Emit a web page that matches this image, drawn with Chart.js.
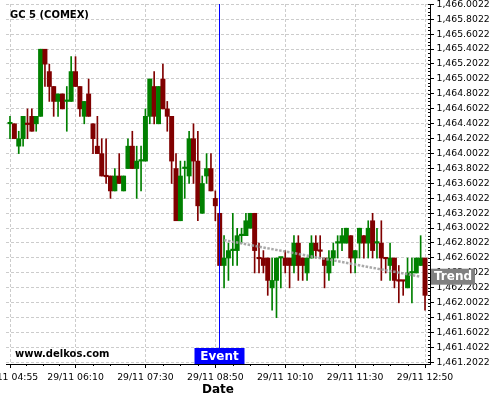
<!DOCTYPE html>
<html>
<head>
<meta charset="utf-8">
<script src="https://cdn.jsdelivr.net/npm/chart.js@4/dist/chart.umd.min.js"></script>
<style>
html, body { margin: 0; padding: 0; background: #fff; }
</style>
</head>
<body>
<canvas id="chart" width="500" height="400"></canvas>
<script>
// GC 5 (COMEX) 5 minute candles
const openP = [1464.4,1464.4,1464.1,1464.2,1464.4,1464.5,1464.4,1464.5,1465.4,1465.1,
  1464.9,1464.7,1464.8,1464.7,1464.7,1465.1,1464.9,1464.5,1464.8,1464.4,
  1464.1,1464.0,1463.7,1463.7,1463.5,1463.7,1463.5,1463.8,1464.1,1463.8,
  1463.9,1463.9,1464.5,1464.9,1464.4,1465.0,1464.6,1464.5,1463.8,1463.1,
  1463.8,1463.7,1464.2,1463.9,1463.2,1463.7,1463.8,1463.4,1463.2,1462.5,
  1462.6,1462.7,1462.7,1462.9,1462.9,1463.0,1463.2,1462.6,1462.6,1462.6,
  1462.2,1462.3,1462.6,1462.6,1462.6,1462.5,1462.8,1462.6,1462.4,1462.6,
  1462.8,1462.7,1462.6,1462.4,1462.6,1462.8,1462.8,1462.8,1462.9,1462.6,
  1462.8,1462.9,1462.8,1463.1,1462.8,1462.8,1462.6,1462.5,1462.6,1462.3,
  1462.3,1462.2,1462.4,1462.4,1462.5,1462.6];
const highP = [1464.5,1464.4,1464.3,1464.5,1464.6,1464.6,1464.5,1465.4,1465.4,1465.2,
  1464.9,1464.8,1464.8,1464.9,1465.3,1465.3,1464.9,1464.7,1465.0,1464.4,
  1464.5,1464.2,1464.2,1463.7,1463.8,1464.0,1463.7,1464.2,1464.3,1464.1,
  1464.1,1464.6,1465.0,1465.1,1464.9,1465.2,1464.7,1464.5,1464.0,1463.9,
  1463.9,1464.3,1464.4,1464.3,1463.7,1464.0,1464.0,1463.5,1463.2,1462.9,
  1462.8,1463.2,1463.0,1463.0,1463.2,1463.2,1463.2,1462.8,1462.7,1462.6,
  1462.6,1462.6,1462.6,1462.7,1462.6,1462.9,1462.9,1462.6,1462.6,1462.9,
  1462.9,1462.9,1462.6,1462.7,1462.8,1462.9,1463.0,1463.0,1462.9,1462.7,
  1463.0,1462.9,1463.1,1463.2,1463.0,1463.1,1462.6,1462.8,1462.6,1462.5,
  1462.3,1462.6,1462.6,1462.6,1462.9,1462.6];
const lowP = [1464.2,1464.2,1464.0,1464.1,1464.2,1464.3,1464.3,1464.5,1464.9,1464.7,
  1464.5,1464.5,1464.6,1464.3,1464.7,1464.9,1464.5,1464.4,1464.5,1464.0,
  1464.0,1463.7,1463.6,1463.4,1463.5,1463.6,1463.5,1463.8,1463.8,1463.4,
  1463.5,1463.9,1464.4,1464.4,1464.4,1464.6,1464.3,1463.6,1463.1,1463.1,
  1463.4,1463.6,1463.6,1463.1,1463.2,1463.6,1463.5,1463.1,1462.5,1462.2,
  1462.3,1462.5,1462.5,1462.8,1462.9,1463.0,1462.4,1462.4,1462.4,1462.1,
  1461.9,1461.8,1462.2,1462.4,1462.2,1462.4,1462.3,1462.3,1462.3,1462.6,
  1462.6,1462.6,1462.2,1462.3,1462.5,1462.6,1462.7,1462.8,1462.4,1462.4,
  1462.6,1462.6,1462.6,1462.6,1462.6,1462.3,1462.4,1462.3,1462.2,1462.0,
  1462.1,1462.2,1462.0,1462.4,1462.5,1461.9];
const closeP = [1464.41,1464.2,1464.2,1464.5,1464.39,1464.3,1464.5,1465.4,1465.2,1464.9,
  1464.7,1464.8,1464.6,1464.71,1465.1,1464.9,1464.6,1464.7,1464.5,1464.2,
  1464.0,1463.7,1463.69,1463.5,1463.7,1463.6,1463.7,1464.1,1463.8,1463.9,
  1463.91,1464.5,1465.0,1464.5,1464.9,1464.6,1464.5,1463.9,1463.1,1463.7,
  1463.81,1464.2,1463.9,1463.3,1463.6,1463.8,1463.5,1463.3,1462.5,1462.6,
  1462.7,1462.71,1462.9,1462.91,1463.1,1463.2,1462.7,1462.59,1462.5,1462.3,
  1462.3,1462.6,1462.61,1462.5,1462.5,1462.8,1462.5,1462.5,1462.6,1462.8,
  1462.7,1462.69,1462.5,1462.6,1462.7,1462.81,1462.9,1463.0,1462.6,1462.7,
  1463.0,1462.8,1463.0,1462.7,1462.81,1462.6,1462.59,1462.6,1462.3,1462.29,
  1462.29,1462.4,1462.41,1462.6,1462.6,1462.1];

// x axis labels (candle index -> time)
const tickIdx = [0, 15, 31, 47, 63, 79, 95];
const tickLabels = ['29/11 04:55', '29/11 06:10', '29/11 07:30', '29/11 08:50',
  '29/11 10:10', '29/11 11:30', '29/11 12:50'];

// trend line and event
const trendX = [49, 94];
const trendY = [1462.84, 1462.35];
const eventIdx = 48;

const yTickStart = 1461.2022;
const yTickStep = 0.2;
const yTickCount = 25;

const upColor = 'rgb(0,128,0)';
const downColor = 'rgb(128,0,0)';
const FONT = "'DejaVu Sans', sans-serif";

const candleColors = openP.map((o, i) => closeP[i] >= o ? upColor : downColor);

function fmt(v) {
  return v.toLocaleString('en-US', { minimumFractionDigits: 4, maximumFractionDigits: 4 });
}

const extras = {
  id: 'extras',
  afterDraw(chart) {
    const ctx = chart.ctx;
    const area = chart.chartArea;
    const xs = chart.scales.x;
    const ys = chart.scales.y;
    ctx.save();

    // minor ticks
    ctx.strokeStyle = '#000';
    ctx.lineWidth = 1;
    ctx.beginPath();
    for (let k = 0; k <= (yTickCount - 1) * 4; k++) {
      const py = Math.round(ys.getPixelForValue(yTickStart + k * yTickStep / 4)) + 0.5;
      ctx.moveTo(area.right - 2, py);
      ctx.lineTo(area.right, py);
    }
    for (let t = 0; t < tickIdx.length - 1; t++) {
      for (let q = 1; q < 4; q++) {
        const v = tickIdx[t] + (tickIdx[t + 1] - tickIdx[t]) * q / 4;
        const px = Math.round(xs.getPixelForValue(v)) + 0.5;
        ctx.moveTo(px, area.bottom);
        ctx.lineTo(px, area.bottom + 2);
      }
    }
    ctx.stroke();

    // event line + label
    const ex = Math.round(xs.getPixelForValue(eventIdx)) - 0.5;
    ctx.strokeStyle = '#0000ff';
    ctx.beginPath();
    ctx.moveTo(ex, area.top);
    ctx.lineTo(ex, area.bottom);
    ctx.stroke();
    ctx.fillStyle = '#0000ff';
    ctx.fillRect(ex - 25, area.bottom - 16, 50, 16);
    ctx.fillStyle = '#fff';
    ctx.font = 'bold 12px ' + FONT;
    ctx.textAlign = 'center';
    ctx.textBaseline = 'middle';
    ctx.fillText('Event', ex, area.bottom - 7.5);

    // trend label on the price axis
    const ty = ys.getPixelForValue(trendY[trendY.length - 1]);
    ctx.fillStyle = '#808080';
    ctx.fillRect(area.right + 1, ty - 8, 44, 16);
    ctx.fillStyle = '#fff';
    ctx.fillText('Trend', area.right + 23, ty + 0.5);

    // texts
    ctx.fillStyle = '#000';
    ctx.textAlign = 'left';
    ctx.font = 'bold 10px ' + FONT;
    ctx.fillText('GC 5 (COMEX)', 10, 15.5);
    ctx.fillText('www.delkos.com', 15, 354);
    ctx.textAlign = 'center';
    ctx.font = 'bold 12px ' + FONT;
    ctx.fillText('Date', (area.left + area.right) / 2, 389.5);
    ctx.restore();
  }
};

const idx = openP.map((o, i) => i);

new Chart(document.getElementById('chart').getContext('2d'), {
  type: 'bar',
  data: {
    datasets: [
      {
        type: 'line',
        data: trendX.map((x, i) => ({ x: x, y: trendY[i] })),
        borderColor: 'rgba(160,160,160,0.9)',
        borderWidth: 2.5,
        borderDash: [2.5, 1.5],
        pointRadius: 0,
        fill: false
      },
      {
        data: idx.map(i => ({ x: i, y: [openP[i], closeP[i]] })),
        backgroundColor: candleColors,
        borderWidth: 0,
        barThickness: 4.3,
        minBarLength: 1.5,
        grouped: false
      },
      {
        data: idx.map(i => ({ x: i, y: [lowP[i], highP[i]] })),
        backgroundColor: candleColors,
        borderWidth: 0,
        barThickness: 1,
        grouped: false
      }
    ]
  },
  options: {
    responsive: false,
    animation: false,
    layout: { padding: { left: 6, top: 4, right: 0, bottom: 0 } },
    plugins: { legend: { display: false }, tooltip: { enabled: false } },
    scales: {
      x: {
        type: 'linear',
        offset: false,
        min: -0.916,
        max: 96.14,
        afterBuildTicks: s => { s.ticks = tickIdx.map(v => ({ value: v })); },
        afterFit: s => { s.height = 36; s.paddingLeft = 0; s.paddingRight = 0; },
        grid: { color: '#cccccc', offset: false, tickLength: 4, tickColor: '#000' },
        border: { display: true, color: '#000', width: 1, dash: [3, 2] },
        ticks: {
          autoSkip: false,
          maxRotation: 0,
          padding: 4,
          color: '#000',
          font: { family: FONT, size: 9.3 },
          callback: v => tickLabels[tickIdx.indexOf(v)]
        }
      },
      y: {
        position: 'right',
        min: 1461.1794,
        max: 1466.0062,
        afterBuildTicks: s => {
          const t = [];
          for (let k = 0; k < yTickCount; k++) t.push({ value: yTickStart + k * yTickStep });
          s.ticks = t;
        },
        afterFit: s => { s.width = 70; s.paddingTop = 0; s.paddingBottom = 0; },
        grid: { color: '#cccccc', tickLength: 4, tickColor: '#000' },
        border: { display: true, color: '#000', width: 1, dash: [3, 2] },
        ticks: {
          autoSkip: false,
          padding: 2.5,
          color: '#000',
          font: { family: FONT, size: 9.3 },
          callback: v => fmt(v)
        }
      }
    }
  },
  plugins: [extras]
});
</script>
</body>
</html>
